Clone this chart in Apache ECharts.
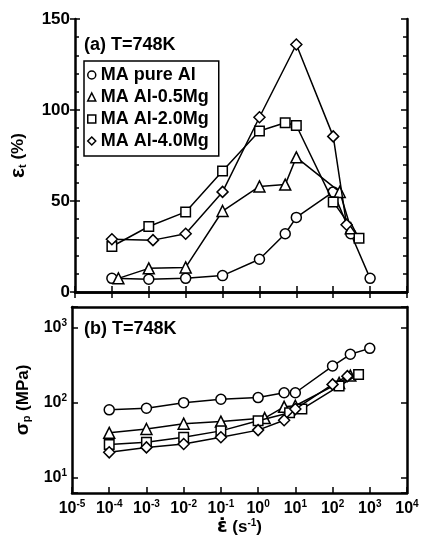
<!DOCTYPE html>
<html>
<head>
<meta charset="utf-8">
<script src="https://cdn.jsdelivr.net/npm/echarts@6/dist/echarts.min.js"></script>
<style>html,body{margin:0;padding:0;background:#fff}#c{width:434px;height:553px}</style>
</head>
<body>
<div id="c"></div>
<script>
// ---- Data ----
const seriesNames = ['MA pure Al', 'MA Al-0.5Mg', 'MA Al-2.0Mg', 'MA Al-4.0Mg'];
// (a) elongation to failure vs strain rate
const rateA_pure = [1e-4, 1e-3, 1e-2, 1e-1, 1, 5, 10, 100, 300, 1000];
const elong_pure = [7.5, 7, 7.5, 9, 18, 32, 41, 55, 32, 7.5];
const rateA_05 = [1.5e-4, 1e-3, 1e-2, 1e-1, 1, 5, 10, 150, 300];
const elong_05 = [7.5, 13, 13.5, 44.5, 58, 59, 74, 55, 35];
const rateA_20 = [1e-4, 1e-3, 1e-2, 1e-1, 1, 5, 10, 100, 500];
const elong_20 = [25, 36, 44, 66.5, 88.5, 93, 91.5, 49.5, 29.5];
const rateA_40 = [1e-4, 1.3e-3, 1e-2, 1e-1, 1, 10, 100, 230];
const elong_40 = [29, 28.5, 32, 55, 96, 136, 85.5, 37];
// (b) peak flow stress vs strain rate
const rateB_pure = [1e-4, 1e-3, 1e-2, 1e-1, 1, 5, 10, 100, 300, 1000];
const stress_pure = [81, 85, 101, 112, 118, 137, 137, 311, 446, 535];
const rateB_05 = [1e-4, 1e-3, 1e-2, 1e-1, 1.5, 5, 10, 150, 300];
const stress_05 = [40, 45, 53, 56.5, 63, 89, 92, 185, 232];
const rateB_20 = [1e-4, 1e-3, 1e-2, 1e-1, 1, 7, 15, 150, 500];
const stress_20 = [28, 30, 35, 42.5, 58, 74, 83, 168, 240];
const rateB_40 = [1e-4, 1e-3, 1e-2, 1e-1, 1, 5, 10, 100, 250];
const stress_40 = [22, 25.6, 28.4, 35, 43.5, 59, 83, 177, 228];
// axis tick settings
const elongTicks = [0, 50, 100, 150];

const FONT = '"Liberation Sans", Arial, sans-serif';
const zip = (a, b) => a.map((v, i) => [v, b[i]]);
const symbols = ['circle', 'triangle', 'rect', 'diamond'];
const symSizes = [10, 11, 9.5, 11];

const topData = [zip(rateA_pure, elong_pure), zip(rateA_05, elong_05), zip(rateA_20, elong_20), zip(rateA_40, elong_40)];
const botData = [zip(rateB_pure, stress_pure), zip(rateB_05, stress_05), zip(rateB_20, stress_20), zip(rateB_40, stress_40)];

const lineAxis = { show: true, lineStyle: { color: '#000', width: 2.5 } };
const tickStyle = { color: '#000', width: 1.5 };
const isDecade = v => Math.abs(Math.log10(v) - Math.round(Math.log10(v))) < 1e-6;
const powLabel = v => isDecade(v) ? '{b|10}{s|' + Math.round(Math.log10(v)) + '}' : '';

function mkSeries(data, xi, yi) {
  return data.map((d, i) => ({
    name: seriesNames[i], type: 'line', xAxisIndex: xi, yAxisIndex: yi,
    data: d, symbol: symbols[i], symbolSize: symSizes[i], showSymbol: true,
    lineStyle: { color: '#000', width: 1.5 },
    itemStyle: { color: '#fff', borderColor: '#000', borderWidth: 1.5 },
    animation: false, z: 2 + i
  }));
}

const chart = echarts.init(document.getElementById('c'));
chart.setOption({
  animation: false,
  backgroundColor: '#fff',
  textStyle: { fontFamily: FONT },
  grid: [
    { left: 72, top: 19, width: 335, height: 273 },
    { left: 72, top: 307, width: 335, height: 186 }
  ],
  legend: {
    data: seriesNames.map((n, i) => ({ name: n, icon: symbols[i] })),
    orient: 'vertical', left: 84, top: 61,
    padding: [5, 10, 6, 3], itemGap: 4, itemWidth: 8, itemHeight: 8,
    borderColor: '#000', borderWidth: 1.5, backgroundColor: '#fff',
    selectedMode: false,
    itemStyle: { color: '#fff', borderColor: '#000', borderWidth: 1.5 },
    textStyle: { fontFamily: FONT, fontWeight: 'bold', fontSize: 18, color: '#000', padding: [0, 0, 0, 0], lineHeight: 17 }
  },
  graphic: [
    { type: 'text', left: 84, top: 36, style: { text: '(a) T=748K', font: 'bold 18px ' + FONT, fill: '#000' } },
    { type: 'text', left: 84, top: 320, style: { text: '(b) T=748K', font: 'bold 18px ' + FONT, fill: '#000' } }
  ],
  xAxis: [
    { gridIndex: 0, type: 'log', logBase: 10, min: 1e-5, max: 1e4, position: 'bottom',
      axisLine: lineAxis, axisTick: { show: true, inside: true, length: 6, lineStyle: tickStyle },
      axisLabel: { show: false }, splitLine: { show: false } },
    { gridIndex: 0, type: 'log', logBase: 10, min: 1e-5, max: 1e4, position: 'top',
      axisLine: lineAxis, axisTick: { show: true, inside: true, length: 6, lineStyle: tickStyle },
      axisLabel: { show: false }, splitLine: { show: false } },
    { gridIndex: 1, type: 'log', logBase: 10, min: 1e-5, max: 1e4, position: 'bottom',
      axisLine: lineAxis, axisTick: { show: true, inside: true, length: 6, lineStyle: tickStyle },
      axisLabel: { show: true, margin: 6, color: '#000', formatter: powLabel,
        rich: { b: { fontSize: 16, fontWeight: 'bold', fontFamily: FONT, color: '#000' },
                s: { fontSize: 10, fontWeight: 'bold', fontFamily: FONT, color: '#000', padding: [0, 0, 9, 0] } } },
      splitLine: { show: false },
      name: '{e|ε̇} (s{s|-1})', nameLocation: 'middle', nameGap: 25,
      nameTextStyle: { fontSize: 17, fontWeight: 'bold', fontFamily: FONT, color: '#000',
        rich: { e: { fontSize: 19, fontFamily: '"DejaVu Sans", sans-serif', color: '#000' },
                s: { fontSize: 10, fontWeight: 'bold', fontFamily: FONT, color: '#000', padding: [0, 0, 9, 0] } } } },
    { gridIndex: 1, type: 'log', logBase: 10, min: 1e-5, max: 1e4, position: 'top',
      axisLine: lineAxis, axisTick: { show: false }, axisLabel: { show: false }, splitLine: { show: false } }
  ],
  yAxis: [
    { gridIndex: 0, type: 'value', min: elongTicks[0], max: elongTicks[elongTicks.length - 1], interval: 50, position: 'left',
      axisLine: lineAxis, axisTick: { show: true, inside: false, length: 5, lineStyle: tickStyle },
      axisLabel: { show: true, margin: 5, fontSize: 17, fontWeight: 'bold', color: '#000', fontFamily: FONT },
      splitLine: { show: false },
      name: '{e|ε}{t|t} (%)', nameLocation: 'middle', nameGap: 46, nameRotate: 90,
      nameTextStyle: { fontSize: 17, fontWeight: 'bold', fontFamily: FONT, color: '#000',
        rich: { e: { fontSize: 21, fontFamily: FONT, color: '#000' },
                t: { fontSize: 11, fontWeight: 'bold', fontFamily: FONT, color: '#000', padding: [8, 0, 0, 0] } } } },
    { gridIndex: 0, type: 'value', min: 0, max: 150, interval: 50, position: 'left',
      axisLine: { show: false }, axisTick: { show: true, inside: true, length: 5, lineStyle: tickStyle },
      minorTick: { show: true, splitNumber: 5, length: 4, lineStyle: tickStyle },
      axisLabel: { show: false }, splitLine: { show: false } },
    { gridIndex: 0, type: 'value', min: 0, max: 150, interval: 50, position: 'right',
      axisLine: lineAxis, axisTick: { show: true, inside: true, length: 6, lineStyle: tickStyle },
      minorTick: { show: true, splitNumber: 5, length: 4, lineStyle: tickStyle },
      axisLabel: { show: false }, splitLine: { show: false } },
    { gridIndex: 1, type: 'log', logBase: 10, min: 6.31, max: 1905, position: 'left',
      axisLine: lineAxis, axisTick: { show: true, inside: true, length: 6, lineStyle: tickStyle },
      axisLabel: { show: true, margin: 5, color: '#000', formatter: powLabel,
        rich: { b: { fontSize: 16, fontWeight: 'bold', fontFamily: FONT, color: '#000' },
                s: { fontSize: 10, fontWeight: 'bold', fontFamily: FONT, color: '#000', padding: [0, 0, 9, 0] } } },
      splitLine: { show: false },
      name: '{e|σ}{t|p} (MPa)', nameLocation: 'middle', nameGap: 34, nameRotate: 90,
      nameTextStyle: { fontSize: 17, fontWeight: 'bold', fontFamily: FONT, color: '#000',
        rich: { e: { fontSize: 19, fontWeight: 'bold', fontFamily: FONT, color: '#000' },
                t: { fontSize: 11, fontWeight: 'bold', fontFamily: FONT, color: '#000', padding: [8, 0, 0, 0] } } } },
    { gridIndex: 1, type: 'log', logBase: 10, min: 6.31, max: 1905, position: 'right',
      axisLine: lineAxis, axisTick: { show: true, inside: true, length: 6, lineStyle: tickStyle },
      axisLabel: { show: false }, splitLine: { show: false } }
  ],
  series: [...mkSeries(topData, 0, 0), ...mkSeries(botData, 2, 3)]
});
</script>
</body>
</html>
